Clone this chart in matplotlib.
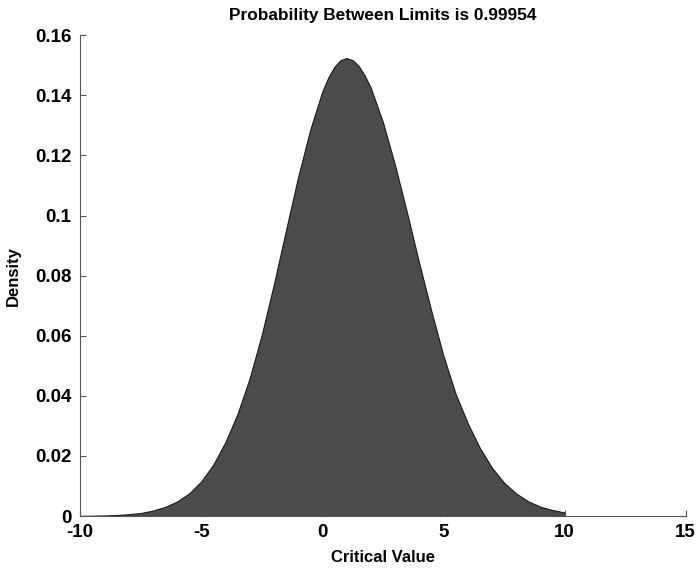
import matplotlib
matplotlib.use("Agg")
import matplotlib.pyplot as plt
from matplotlib.ticker import FuncFormatter

# Values
x_vals = [-10, -9.5, -9, -8.5, -8, -7.5, -7, -6.5, -6, -5.5, -5, -4.5, -4, -3.5, -3,
          -2.5, -2, -1.5, -1, -0.5, 0, 0.25, 0.5, 0.75, 1, 1.25, 1.5, 1.75, 2, 2.5,
          3, 3.5, 4, 4.5, 5, 5.5, 6, 6.5, 7, 7.5, 8, 8.5, 9, 9.5, 10]
density = [0.00005, 0.0001, 0.00018, 0.00033, 0.0006, 0.001, 0.0018, 0.003, 0.0048,
           0.0075, 0.0115, 0.0171, 0.0246, 0.034, 0.0458, 0.0603, 0.0771, 0.0951,
           0.1128, 0.1285, 0.1413, 0.146, 0.1495, 0.1517, 0.1524, 0.1517, 0.1498,
           0.1466, 0.1425, 0.1311, 0.1168, 0.1008, 0.0841, 0.0682, 0.0533, 0.0407,
           0.0309, 0.0227, 0.0161, 0.0111, 0.0075, 0.0049, 0.0031, 0.002, 0.0012]
x_ticks = [-10, -5, 0, 5, 10, 15]
y_ticks = [0, 0.02, 0.04, 0.06, 0.08, 0.1, 0.12, 0.14, 0.16]
title = "Probability Between Limits is 0.99954"

plt.rcParams['font.family'] = ['Liberation Sans', 'DejaVu Sans']

fig = plt.figure(figsize=(6.99, 5.68), dpi=100)
ax = fig.add_axes([0.1145, 0.0915, 0.8665, 0.8465])

ax.fill_between(x_vals, density, 0, facecolor='#4b4b4b', edgecolor='#1a1a1a', linewidth=0.8)

ax.set_xlim(-10, 15)
ax.set_ylim(0, 0.16)
ax.set_xticks(x_ticks)
ax.set_yticks(y_ticks)
ax.yaxis.set_major_formatter(FuncFormatter(lambda v, p: '%g' % v))
ax.xaxis.set_major_formatter(FuncFormatter(lambda v, p: '%g' % v))

for s in ['top', 'right']:
    ax.spines[s].set_visible(False)
for s in ['left', 'bottom']:
    ax.spines[s].set_color('#555555')
    ax.spines[s].set_linewidth(0.8)

ax.tick_params(direction='in', length=4, width=0.8, color='#555555',
               labelsize=13.5)
ax.tick_params(axis='x', pad=6)
ax.tick_params(axis='y', pad=6)
for lab in ax.get_xticklabels() + ax.get_yticklabels():
    lab.set_fontweight('bold')

ax.set_title(title, fontsize=12.4, pad=11, fontweight='bold')
ax.set_xlabel("Critical Value", fontsize=12, labelpad=6, fontweight='bold')
ax.set_ylabel("Density", fontsize=12, labelpad=10, fontweight='bold')

fig.savefig("out.png", dpi=100)
